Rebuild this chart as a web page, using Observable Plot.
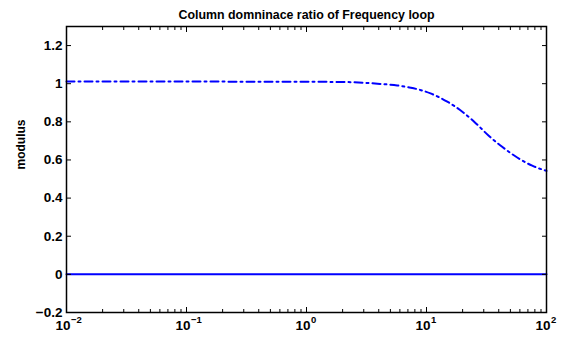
<!DOCTYPE html>
<html>
<head>
<meta charset="utf-8">
<script src="https://cdn.jsdelivr.net/npm/d3@7"></script>
<script src="https://cdn.jsdelivr.net/npm/@observablehq/plot@0.6"></script>
<style>
  html, body { margin: 0; padding: 0; background: #fff; }
  svg { display: block; }
</style>
</head>
<body>
<div id="chart"></div>
<script>
const titleText = "Column domninace ratio of Frequency loop";
const yLabel = "modulus";
const freq = [0.01, 0.1, 1, 2, 3, 4.1, 5.7, 7.4, 9, 10.8, 14.9, 20, 25.7, 33, 42.7, 57, 76, 100];
const ratio = [1.011, 1.011, 1.010, 1.009, 1.005, 0.999, 0.991, 0.979, 0.966, 0.949, 0.906, 0.852, 0.793, 0.727, 0.669, 0.613, 0.570, 0.543];
const zeroFreq = [0.01, 100];
const zeroVal = [0, 0];
const xMajor = [0.01, 0.1, 1, 10, 100];
const xExp = ["\u22122", "\u22121", "0", "1", "2"];
const yTicks = [-0.2, 0, 0.2, 0.4, 0.6, 0.8, 1, 1.2];

const xMinor = [];
for (let d = -2; d < 2; d++) for (let m = 2; m <= 9; m++) xMinor.push(m * Math.pow(10, d));

const curve = freq.map((f, i) => ({f, v: ratio[i]}));
const zero = zeroFreq.map((f, i) => ({f, v: zeroVal[i]}));
const majors = xMajor.map((f, i) => ({f, e: xExp[i]}));

const font = "'Liberation Sans', Arial, Helvetica, sans-serif";

const plot = Plot.plot({
  width: 562,
  height: 343,
  marginLeft: 66,
  marginRight: 16,
  marginTop: 26,
  marginBottom: 31,
  style: {fontFamily: font, fontWeight: "bold", fontSize: "13.5px", color: "#000", background: "#fff"},
  x: {type: "log", domain: [0.01, 100]},
  y: {domain: [-0.2, 1.3]},
  marks: [
    Plot.line(zero, {x: "f", y: "v", stroke: "#0000ff", strokeWidth: 2}),
    Plot.line(curve, {x: "f", y: "v", stroke: "#0000ff", strokeWidth: 2, strokeDasharray: "8,4,2,4", curve: "monotone-x"}),
    // inward ticks
    Plot.axisY(yTicks, {anchor: "left", tickSize: -5, text: null, label: null, strokeWidth: 1}),
    Plot.axisY(yTicks, {anchor: "right", tickSize: -5, text: null, label: null, strokeWidth: 1}),
    Plot.axisX(xMajor, {anchor: "bottom", tickSize: -5, text: null, label: null, strokeWidth: 1}),
    Plot.axisX(xMajor, {anchor: "top", tickSize: -5, text: null, label: null, strokeWidth: 1}),
    Plot.axisX(xMinor, {anchor: "bottom", tickSize: -3, text: null, label: null, strokeWidth: 1}),
    Plot.axisX(xMinor, {anchor: "top", tickSize: -3, text: null, label: null, strokeWidth: 1}),
    // y tick labels
    Plot.axisY(yTicks, {anchor: "left", tickSize: 0, tickPadding: 4, label: null, tickFormat: d => d === 0 ? "0" : d3.format("")(d).replace("-", "\u2212"), fontSize: 13.5, fontWeight: "bold"}),
    // x tick labels: base and exponent
    Plot.text(majors, {x: "f", text: () => "10", frameAnchor: "bottom", dy: 17, dx: -3.5, fontSize: 13.5, fontWeight: "bold"}),
    Plot.text(majors, {x: "f", text: "e", frameAnchor: "bottom", dy: 10.5, dx: 4.5, textAnchor: "start", fontSize: 9.5, fontWeight: "bold"}),
    Plot.frame({stroke: "#000", strokeWidth: 1.5}),
    Plot.text([titleText], {frameAnchor: "top", dy: -16, fontSize: 12.4, fontWeight: "bold"}),
    Plot.text([yLabel], {frameAnchor: "left", dx: -45, rotate: -90, fontSize: 12, fontWeight: "bold"})
  ]
});
document.getElementById("chart").appendChild(plot);
</script>
</body>
</html>
